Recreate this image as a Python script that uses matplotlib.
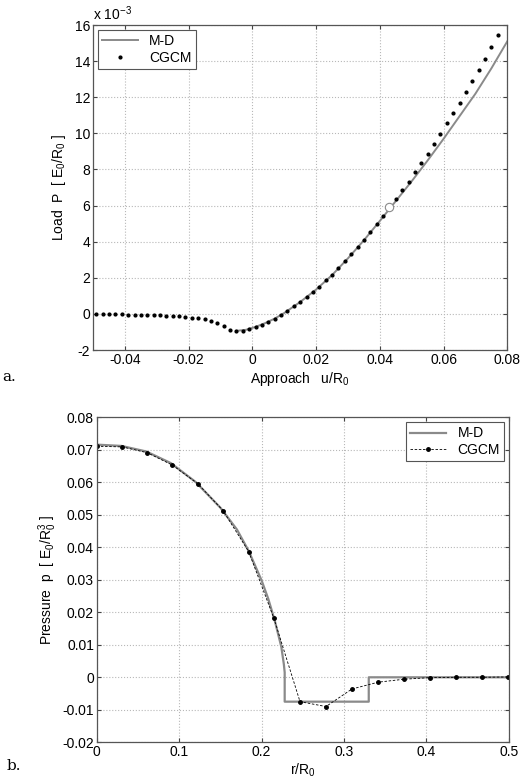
import numpy as np
import matplotlib
matplotlib.use('Agg')
import matplotlib.pyplot as plt
from matplotlib.ticker import FuncFormatter

plt.rcParams['font.family'] = ['Liberation Sans', 'DejaVu Sans']
plt.rcParams['mathtext.fontset'] = 'custom'
plt.rcParams['mathtext.rm'] = 'Liberation Sans'
plt.rcParams['mathtext.it'] = 'Liberation Sans'
plt.rcParams['axes.unicode_minus'] = False

# ── a. load vs approach (load in units of 1e-3) ──────────────
cgcm_u = [-0.049, -0.047, -0.045, -0.043, -0.041, -0.039, -0.037, -0.035,
          -0.033, -0.031, -0.029, -0.027, -0.025, -0.023, -0.021, -0.019,
          -0.017, -0.015, -0.013, -0.011, -0.009, -0.007, -0.005, -0.003,
          -0.001, 0.001, 0.003, 0.005, 0.007, 0.009, 0.011, 0.013,
          0.015, 0.017, 0.019, 0.021, 0.023, 0.025, 0.027, 0.029,
          0.031, 0.033, 0.035, 0.037, 0.039, 0.041, 0.043, 0.045,
          0.047, 0.049, 0.051, 0.053, 0.055, 0.057, 0.059, 0.061,
          0.063, 0.065, 0.067, 0.069, 0.071, 0.073, 0.075, 0.077]
cgcm_P = [-0.01, -0.02, -0.02, -0.03, -0.03, -0.04, -0.04, -0.05,
          -0.06, -0.07, -0.08, -0.10, -0.12, -0.14, -0.17, -0.20,
          -0.24, -0.30, -0.40, -0.52, -0.68, -0.88, -0.94, -0.92,
          -0.84, -0.72, -0.59, -0.43, -0.26, -0.06, 0.17, 0.41,
          0.66, 0.91, 1.20, 1.51, 1.85, 2.18, 2.55, 2.92,
          3.30, 3.69, 4.10, 4.52, 4.96, 5.42, 5.90, 6.37,
          6.85, 7.33, 7.86, 8.38, 8.88, 9.43, 9.98, 10.55,
          11.11, 11.70, 12.29, 12.92, 13.52, 14.13, 14.80, 15.44]
md_u = [-0.005, -0.002, 0.001, 0.004, 0.007, 0.010, 0.015, 0.020, 0.025,
        0.030, 0.035, 0.040, 0.045, 0.050, 0.055, 0.060, 0.065, 0.070,
        0.075, 0.080]
md_P = [-0.94, -0.88, -0.72, -0.51, -0.26, 0.05, 0.66, 1.35, 2.15,
        3.08, 4.08, 5.15, 6.25, 7.35, 8.50, 9.70, 10.95, 12.20,
        13.60, 15.10]
mark_u, mark_P = 0.043, 5.90

# ── b. pressure distribution ─────────────────────────────────
cgcm_r = [0.0, 0.031, 0.0614, 0.0918, 0.1225, 0.1532, 0.1843, 0.215,
          0.2466, 0.2781, 0.3096, 0.3415, 0.3727, 0.4042, 0.4353, 0.4673, 0.4984]
cgcm_p = [0.0711, 0.0709, 0.0691, 0.0653, 0.0596, 0.0513, 0.0387, 0.0181,
          -0.0075, -0.0090, -0.0036, -0.0015, -0.0006, -0.0001, 0.0, 0.0, 0.0001]
md_r = [0.0, 0.03, 0.06, 0.09, 0.12, 0.15, 0.17, 0.1843, 0.2, 0.208, 0.2158,
        0.2239, 0.227, 0.228, 0.228, 0.33, 0.33, 0.5]
md_p = [0.0716, 0.0712, 0.0695, 0.0659, 0.0601, 0.0522, 0.0455, 0.0389,
        0.0298, 0.0242, 0.0176, 0.0094, 0.0040, 0.0015, -0.0075, -0.0075,
        0.0, 0.0]

GRAY = '#8a8a8a'
fig = plt.figure(figsize=(5.23, 7.83), dpi=100)
ax1 = fig.add_axes([0.178, 0.553, 0.792, 0.415])
ax2 = fig.add_axes([0.185, 0.052, 0.788, 0.415])


def style(ax):
    ax.grid(True, linestyle=':', color='#b8b8b8', linewidth=0.8)
    ax.tick_params(direction='in', length=3, top=True, right=True,
                   labelsize=10, color='#444444', pad=2)
    for s in ax.spines.values():
        s.set_color('#555555')
        s.set_linewidth(0.9)
    ax.xaxis.set_major_formatter(FuncFormatter(lambda v, p: f'{v:g}'))
    ax.yaxis.set_major_formatter(FuncFormatter(lambda v, p: f'{v:g}'))


ax1.plot(md_u, md_P, '-', color=GRAY, linewidth=1.4, label='M-D')
ax1.plot(cgcm_u, cgcm_P, 'k.', markersize=4, linestyle='none', label='CGCM')
ax1.plot(mark_u, mark_P, 'o', markersize=6, markerfacecolor='white',
         markeredgecolor=GRAY, markeredgewidth=0.8)
ax1.set_xlim(-0.05, 0.08)
ax1.set_ylim(-2, 16)
ax1.set_xticks(np.arange(-0.04, 0.081, 0.02))
ax1.set_yticks(np.arange(-2, 17, 2))
style(ax1)
ax1.set_xlabel('Approach   u/R$_0$', fontsize=10, labelpad=2)
ax1.set_ylabel('Load  P  [ E$_0$/R$_0$ ]', fontsize=10, labelpad=5)
ax1.text(0.0, 1.005, 'x 10$^{-3}$', transform=ax1.transAxes, fontsize=10,
         ha='left', va='bottom')
leg1 = ax1.legend(loc='upper left', fontsize=10, fancybox=False,
                  edgecolor='#555555', framealpha=1, borderaxespad=0.35,
                  handlelength=2.6, borderpad=0.3, labelspacing=0.2)
leg1.get_frame().set_linewidth(0.8)

ax2.plot(md_r, md_p, '-', color=GRAY, linewidth=1.6, label='M-D')
ax2.plot(cgcm_r, cgcm_p, 'k--', marker='.', markersize=5, linewidth=0.6,
         dashes=(3, 2), label='CGCM')
ax2.set_xlim(0, 0.5)
ax2.set_ylim(-0.02, 0.08)
ax2.set_xticks(np.arange(0, 0.51, 0.1))
ax2.set_yticks(np.arange(-0.02, 0.081, 0.01))
style(ax2)
ax2.set_xlabel('r/R$_0$', fontsize=10, labelpad=2)
ax2.set_ylabel('Pressure  p  [ E$_0$/R$_0^3$ ]', fontsize=10, labelpad=2)
leg2 = ax2.legend(loc='upper right', fontsize=10, fancybox=False,
                  edgecolor='#555555', framealpha=1, borderaxespad=0.35,
                  handlelength=2.6, borderpad=0.3, labelspacing=0.2)
leg2.get_frame().set_linewidth(0.8)

fig.text(0.004, 0.518, 'a.', fontsize=11, family='DejaVu Serif', va='center')
fig.text(0.012, 0.022, 'b.', fontsize=11, family='DejaVu Serif', va='center')

fig.savefig('out.png', dpi=100)
